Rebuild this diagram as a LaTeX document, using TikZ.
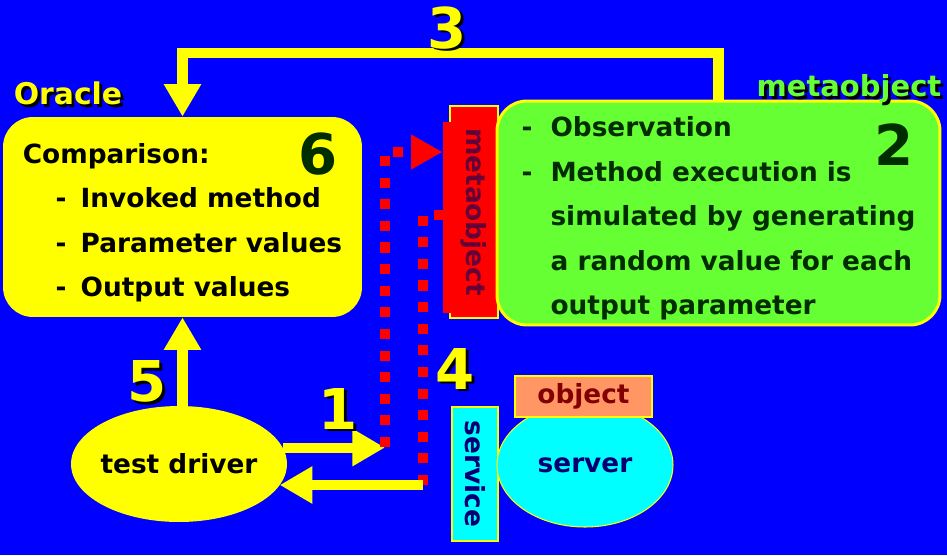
\documentclass[tikz,border=0pt]{standalone}
\usepackage{xcolor}
\usepackage{fontspec}
\setmainfont{DejaVu Sans}
\usepackage{tikz}
\usetikzlibrary{shapes.geometric, arrows.meta, positioning}

\definecolor{bgblue}{RGB}{0,0,255}
\definecolor{boxyellow}{RGB}{255,255,0}
\definecolor{limegreen}{RGB}{102,255,51}
\definecolor{darkgreen}{RGB}{0,45,0}
\definecolor{metared}{RGB}{255,0,0}
\definecolor{maroontext}{RGB}{100,0,55}
\definecolor{navytext}{RGB}{0,0,115}
\definecolor{salmon}{RGB}{255,150,100}
\definecolor{objred}{RGB}{130,0,0}
\definecolor{cyanfill}{RGB}{0,255,255}

% yellow/green labels with a dark drop shadow
\newcommand{\shtxt}[2]{\makebox[0pt][l]{\hspace{1.6pt}\raisebox{-1.6pt}{\color{black}#2}}{\color{#1}#2}}

\begin{document}
\begin{tikzpicture}[
    x=0.02cm, y=-0.02cm,
    txt/.style={font=\fontsize{15}{25.3}\selectfont\bfseries},
    bignum/.style={font=\fontsize{32}{32}\selectfont\bfseries, inner sep=0pt},
    box/.style={rectangle, rounded corners=17pt, inner sep=0pt, align=left, txt},
    tag/.style={rectangle, draw=boxyellow, line width=0.6pt, inner sep=0pt, txt},
    blob/.style={ellipse, inner sep=0pt, txt},
    yarrow/.style={draw=boxyellow, line width=5.7pt, -{Triangle[width=20pt,length=18.5pt]}},
    dots/.style={draw=metared, line width=5.7pt, dash pattern=on 5.7pt off 6.6pt}
]
    \useasboundingbox[fill=bgblue] (0,0) rectangle (947,555);

    % Oracle
    \node[box, fill=boxyellow, minimum width=7.18cm, minimum height=4cm] (oracle) at (182.5,217)
        {\rule{0pt}{18pt}Comparison:\\
         \hspace*{18.7pt}\makebox[14.2pt][l]{-}Invoked method\\
         \hspace*{18.7pt}\makebox[14.2pt][l]{-}Parameter values\\
         \hspace*{18.7pt}\makebox[14.2pt][l]{-}Output values};
    \node[font=\fontsize{17}{17}\selectfont\bfseries, inner sep=0pt] (oraclelbl) at (68,95) {\shtxt{boxyellow}{Oracle}};
    \node[bignum, text=darkgreen] (n6) at (318,154) {6};

    % metaobject
    \node[tag, fill=metared, minimum width=0.96cm, minimum height=4.24cm, text=maroontext] (metabox) at (474,212)
        {\rotatebox{-90}{metaobject}};
    \node[rectangle, fill=metared, minimum width=0.2cm, minimum height=3.82cm, inner sep=0pt] (metaback) at (448,217.5) {};
    \node[box, fill=limegreen, draw=boxyellow, line width=1.7pt, text=darkgreen,
          minimum width=8.86cm, minimum height=4.48cm] (observer) at (718.5,213)
        {\rule{0pt}{17.5pt}\makebox[16.5pt][l]{-}Observation\\
         \makebox[16.5pt][l]{-}Method execution is\\
         \hspace*{16.5pt}simulated by generating\\
         \hspace*{16.5pt}a random value for each\\
         \hspace*{16.5pt}output parameter};
    \node[font=\fontsize{16.5}{16.5}\selectfont\bfseries, inner sep=0pt] (metalbl) at (849,90) {\shtxt{limegreen}{metaobject}};
    \node[bignum, text=darkgreen] (n2) at (894,145) {2};

    % test driver
    \node[blob, fill=boxyellow, minimum width=4.32cm, minimum height=2.32cm] (driver) at (179,464)
        {\makebox[0pt]{test driver}};

    % server side
    \node[tag, fill=cyanfill, minimum width=0.92cm, minimum height=2.68cm, text=navytext] (service) at (475,474)
        {\rotatebox{-90}{service}};
    \node[blob, fill=cyanfill, draw=boxyellow, line width=0.6pt, minimum width=3.52cm, minimum height=2.48cm,
          text=navytext] (server) at (585,465) {\makebox[0pt]{server}};
    \node[tag, fill=salmon, minimum width=2.74cm, minimum height=0.82cm, text=objred] (objlbl) at (583.5,396.5) {object};

    % connectors
    \coordinate (dotsA) at (385,447);
    \coordinate (dotsB) at (423,485);
    \draw[yarrow] (observer.north) -- ++(0,-47) -| (oracle.north);
    \draw[yarrow] (oracle.south |- driver.north) -- (oracle.south);
    \draw[yarrow] (driver.9) -- (driver.9 -| dotsA);
    \draw[dots, -{Triangle[width=18.7pt,length=18pt]}] (dotsA) |- (metaback.west |- 0,152);
    \draw[dots] (dotsB) |- (metaback.west |- 0,215);
    \draw[yarrow] (dotsB) -- (dotsB -| driver.-12);

    % step numbers
    \node[bignum] (n3) at (447,29) {\shtxt{boxyellow}{3}};
    \node[bignum] (n5) at (147,383) {\shtxt{boxyellow}{5}};
    \node[bignum] (n1) at (338,410) {\shtxt{boxyellow}{1}};
    \node[bignum] (n4) at (455,370) {\shtxt{boxyellow}{4}};
\end{tikzpicture}
\end{document}
